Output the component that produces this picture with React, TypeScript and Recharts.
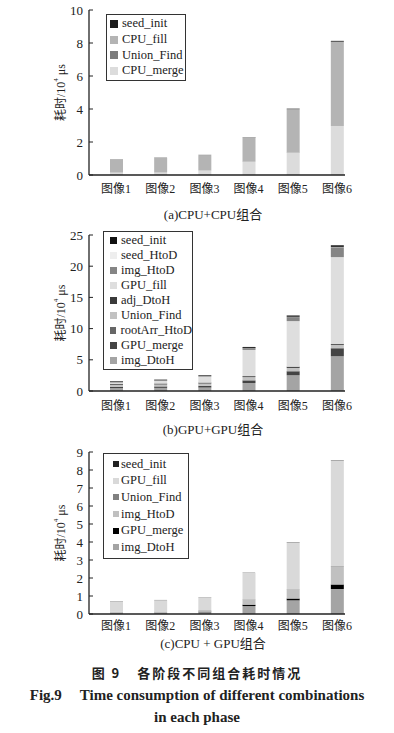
import React from 'react';
import { BarChart, Bar, XAxis, YAxis, Legend } from 'recharts';

const images = ['图像1', '图像2', '图像3', '图像4', '图像5', '图像6'];

// (a) CPU+CPU, legend order = top of stack first
const aNames = ['seed_init', 'CPU_fill', 'Union_Find', 'CPU_merge'];
const aSeedInit = [0.01, 0.01, 0.01, 0.02, 0.03, 0.05];
const aCpuFill = [0.78, 0.88, 0.92, 1.44, 2.62, 5.05];
const aUnionFind = [0.01, 0.01, 0.01, 0.01, 0.02, 0.03];
const aCpuMerge = [0.15, 0.16, 0.28, 0.8, 1.35, 3.0];
const aTicks = [0, 2, 4, 6, 8, 10];

// (b) GPU+GPU
const bNames = ['seed_init', 'seed_HtoD', 'img_HtoD', 'GPU_fill', 'adj_DtoH', 'Union_Find', 'rootArr_HtoD', 'GPU_merge', 'img_DtoH'];
const bSeedInit = [0.1, 0.1, 0.1, 0.15, 0.2, 0.25];
const bSeedHtoD = [0.02, 0.02, 0.02, 0.03, 0.05, 0.05];
const bImgHtoD = [0.1, 0.1, 0.12, 0.3, 0.65, 1.6];
const bGpuFill = [0.2, 0.4, 0.95, 4.2, 7.3, 13.9];
const bAdjDtoH = [0.15, 0.15, 0.15, 0.15, 0.2, 0.15];
const bUnionFind = [0.3, 0.3, 0.35, 0.5, 0.5, 0.5];
const bRootArrHtoD = [0.05, 0.05, 0.05, 0.05, 0.08, 0.1];
const bGpuMerge = [0.2, 0.2, 0.25, 0.4, 0.6, 1.23];
const bImgDtoH = [0.45, 0.5, 0.55, 1.28, 2.52, 5.57];
const bTicks = [0, 5, 10, 15, 20, 25];

// (c) CPU + GPU
const cNames = ['seed_init', 'GPU_fill', 'Union_Find', 'img_HtoD', 'GPU_merge', 'img_DtoH'];
const cSeedInit = [0.01, 0.01, 0.01, 0.01, 0.02, 0.02];
const cGpuFill = [0.59, 0.63, 0.7, 1.48, 2.57, 5.87];
const cUnionFind = [0.01, 0.01, 0.01, 0.02, 0.02, 0.04];
const cImgHtoD = [0.04, 0.05, 0.08, 0.28, 0.5, 0.97];
const cGpuMerge = [0.01, 0.01, 0.03, 0.08, 0.1, 0.25];
const cImgDtoH = [0.06, 0.07, 0.1, 0.44, 0.76, 1.39];
const cTicks = [0, 1, 2, 3, 4, 5, 6, 7, 8, 9];

const aColors = ['#1c1c1c', '#b4b4b4', '#7c7c7c', '#dcdcdc'];
const bColors = ['#111111', '#eeeeee', '#858585', '#dedede', '#3a3a3a', '#c2c2c2', '#666666', '#444444', '#a4a4a4'];
const cColors = ['#222222', '#d9d9d9', '#808080', '#c0c0c0', '#000000', '#a4a4a4'];

const FONT = '"Liberation Serif", "Times New Roman", "Noto Sans CJK SC", serif';

function YTitle({ viewBox }: any) {
  const cx = (viewBox?.x ?? 0) + 61;
  const cy = (viewBox?.y ?? 0) + (viewBox?.height ?? 0) / 2;
  return (
    <text
      x={cx}
      y={cy}
      transform={`rotate(-90, ${cx}, ${cy})`}
      textAnchor="middle"
      dominantBaseline="central"
      fontSize={12}
      fontFamily={FONT}
      fill="#222"
    >
      耗时/10<tspan dy={-5} fontSize={7}>4</tspan>
      <tspan dy={5}> μs</tspan>
    </text>
  );
}

function LegendBox({ names, colors, box }: any) {
  return (
    <div
      style={{
        width: box.width,
        border: '1.3px solid #333',
        padding: `${box.padY}px 0 ${box.padY}px ${box.padX}px`,
        background: '#fff',
        boxSizing: 'border-box',
      }}
    >
      {names.map((n: string, i: number) => (
        <div
          key={n}
          style={{
            display: 'flex',
            alignItems: 'center',
            height: box.row,
            fontSize: 12.5,
            fontFamily: FONT,
            color: '#222',
            whiteSpace: 'nowrap',
          }}
        >
          <span
            style={{
              display: 'inline-block',
              width: box.marker,
              height: box.marker,
              background: colors[i],
              marginRight: box.gap,
            }}
          />
          {n}
        </div>
      ))}
    </div>
  );
}

function Panel({ names, values, colors, ticks, top, plotHeight, legend, caption, captionTop, labelGap }: any) {
  const data = images.map((img, i) => {
    const row: Record<string, string | number> = { image: img };
    names.forEach((n: string, k: number) => {
      row[n] = values[k][i];
    });
    return row;
  });
  const bottomFirst = names.map((n: string, k: number) => ({ n, c: colors[k] })).reverse();
  return (
    <>
      <div style={{ position: 'absolute', left: 0, top }}>
        <BarChart
          width={394}
          height={10 + plotHeight + 26}
          data={data}
          margin={{ top: 10, right: 49, bottom: 0, left: 0 }}
        >
          <XAxis
            dataKey="image"
            padding={{ left: 5, right: -14 }}
            axisLine={{ stroke: '#222', strokeWidth: 1.3 }}
            tickLine={false}
            tickSize={0}
            tickMargin={labelGap}
            height={26}
            interval={0}
            tick={{ fill: '#222', fontSize: 12, fontFamily: FONT }}
          />
          <YAxis
            type="number"
            domain={[0, ticks[ticks.length - 1]]}
            ticks={ticks}
            width={89}
            axisLine={{ stroke: '#222', strokeWidth: 1.3 }}
            tickLine={{ stroke: '#222' }}
            tickSize={-4}
            tickMargin={10}
            interval={0}
            tick={{ fill: '#222', fontSize: 13, fontFamily: FONT }}
            label={<YTitle />}
          />
          <Legend
            layout="vertical"
            align="center"
            verticalAlign="middle"
            wrapperStyle={{ left: legend.left, top: legend.top, width: 'auto', height: 'auto' }}
            content={() => <LegendBox names={names} colors={colors} box={legend} />}
          />
          {bottomFirst.map((s: any) => (
            <Bar key={s.n} dataKey={s.n} stackId="t" fill={s.c} barSize={13} isAnimationActive={false} />
          ))}
        </BarChart>
      </div>
      <div
        style={{
          position: 'absolute',
          left: 89,
          width: 248,
          top: captionTop,
          textAlign: 'center',
          fontSize: 13,
          fontFamily: FONT,
          color: '#222',
          whiteSpace: 'nowrap',
        }}
      >
        {caption}
      </div>
    </>
  );
}

export default function App() {
  return (
    <div style={{ position: 'absolute', left: 0, top: 0, width: 394, height: 733, background: '#fff', fontFamily: FONT }}>
      <Panel
        names={aNames}
        values={[aSeedInit, aCpuFill, aUnionFind, aCpuMerge]}
        colors={aColors}
        ticks={aTicks}
        top={0}
        plotHeight={165}
        labelGap={9}
        legend={{ left: 106, top: 14, width: 80, padX: 3, padY: 1, row: 15.7, marker: 8, gap: 4 }}
        caption="(a)CPU+CPU组合"
        captionTop={204}
      />
      <Panel
        names={bNames}
        values={[bSeedInit, bSeedHtoD, bImgHtoD, bGpuFill, bAdjDtoH, bUnionFind, bRootArrHtoD, bGpuMerge, bImgDtoH]}
        colors={bColors}
        ticks={bTicks}
        top={225}
        plotHeight={156}
        labelGap={10}
        legend={{ left: 103, top: 6, width: 90, padX: 6, padY: 1, row: 15, marker: 7, gap: 4 }}
        caption="(b)GPU+GPU组合"
        captionTop={419}
      />
      <Panel
        names={cNames}
        values={[cSeedInit, cGpuFill, cUnionFind, cImgHtoD, cGpuMerge, cImgDtoH]}
        colors={cColors}
        ticks={cTicks}
        top={442}
        plotHeight={162}
        labelGap={7}
        legend={{ left: 103, top: 11, width: 86, padX: 9, padY: 2, row: 16.6, marker: 6, gap: 2 }}
        caption="(c)CPU + GPU组合"
        captionTop={633}
      />
      <div style={{ position: 'absolute', left: 0, width: 394, top: 663, textAlign: 'center', fontSize: 13, fontWeight: 'bold', color: '#222', fontFamily: '"Noto Sans CJK SC", sans-serif', letterSpacing: 2 }}>
        图 9<span style={{ display: 'inline-block', width: 16 }} />各阶段不同组合耗时情况
      </div>
      <div style={{ position: 'absolute', left: 0, width: 394, top: 687, textAlign: 'center', fontSize: 15, fontWeight: 'bold', color: '#222', fontFamily: FONT, whiteSpace: 'nowrap' }}>
        Fig.9<span style={{ display: 'inline-block', width: 18 }} />Time consumption of different combinations
      </div>
      <div style={{ position: 'absolute', left: 0, width: 394, top: 709, textAlign: 'center', fontSize: 15, fontWeight: 'bold', color: '#222', fontFamily: FONT }}>
        in each phase
      </div>
    </div>
  );
}
